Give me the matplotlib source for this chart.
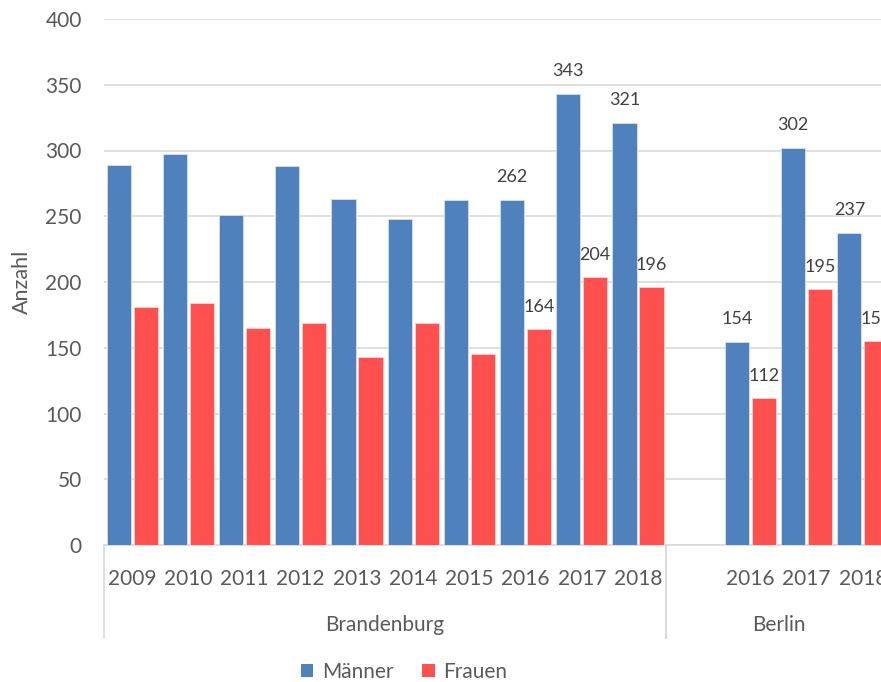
import numpy as np
import matplotlib
matplotlib.use("Agg")
import matplotlib.pyplot as plt
from matplotlib.patches import Patch

plt.rcParams['font.family'] = ['Lato', 'DejaVu Sans']

# ---- data ----
years = ['2009', '2010', '2011', '2012', '2013', '2014', '2015', '2016', '2017', '2018',
         '', '2016', '2017', '2018']
maenner = [289, 297, 251, 288, 263, 248, 262, 262, 343, 321, np.nan, 154, 302, 237]
frauen = [181, 184, 165, 169, 143, 169, 145, 164, 204, 196, np.nan, 112, 195, 155]
show_label = [False, False, False, False, False, False, False, True, True, True,
              False, True, True, True]
groups = ['Brandenburg', 'Berlin']
group_spans = [(0, 10), (10, 14)]
series_names = ['Männer', 'Frauen']
yticks = [0, 50, 100, 150, 200, 250, 300, 350, 400]

# ---- style ----
c_m = '#4F81BD'
c_f = '#FF5050'
txt = '#595959'
lab = '#404040'
grid = '#D9D9D9'

W, H = 881, 682
fig = plt.figure(figsize=(W / 100, H / 100), dpi=100)
left, right = 104, 891
top, bottom = 19, 545
ax = fig.add_axes([left / W, (H - bottom) / H, (right - left) / W, (bottom - top) / H])

x = np.arange(len(years))
bw = 0.43
ax.bar(x + 0.26, maenner, width=bw, color=c_m, edgecolor='#D6E1EF', linewidth=0.6, zorder=3)
ax.bar(x + 0.74, frauen, width=bw, color=c_f, edgecolor='#FFD0D0', linewidth=0.6, zorder=3)

for i in range(len(years)):
    if show_label[i]:
        ax.annotate(f"{int(maenner[i])}", xy=(x[i] + 0.26, maenner[i]), xytext=(0, 23),
                    textcoords='offset pixels', ha='center', va='center',
                    fontsize=13, color=lab, zorder=5)
        ax.annotate(f"{int(frauen[i])}", xy=(x[i] + 0.74, frauen[i]), xytext=(0, 22),
                    textcoords='offset pixels', ha='center', va='center',
                    fontsize=13, color=lab, zorder=5)

ax.set_xlim(0, 14)
ax.set_ylim(0, 400)
ax.set_yticks(yticks)
ax.set_yticklabels([str(v) for v in yticks])
ax.yaxis.grid(True, color=grid, linewidth=1.2, zorder=0)
ax.set_axisbelow(True)
ax.tick_params(axis='y', length=0, pad=16, labelsize=15, labelcolor=txt)
for s in ['left', 'right', 'top']:
    ax.spines[s].set_visible(False)
ax.spines['bottom'].set_color(grid)
ax.spines['bottom'].set_linewidth(1.2)

ax.set_xticks(x + 0.5)
ax.set_xticklabels(years)
ax.tick_params(axis='x', length=0, pad=17, labelsize=15, labelcolor=txt)

tr = ax.get_xaxis_transform()
div_h = 93 / (bottom - top)
for (a, b) in group_spans:
    for xv in (a, b):
        ax.plot([xv, xv], [0, -div_h], transform=tr, color=grid, lw=1.2, clip_on=False)
for g, (a, b) in zip(groups, group_spans):
    ax.annotate(g, xy=((a + b) / 2, 0), xycoords=tr, xytext=(0, -80),
                textcoords='offset pixels', ha='center', va='center',
                fontsize=15, color=txt, annotation_clip=False)

ax.set_ylabel('Anzahl', fontsize=15.5, color=txt)
ax.yaxis.set_label_coords(-(104 - 32) / (right - left), 0.5)

handles = [Patch(facecolor=c_m, edgecolor='none'), Patch(facecolor=c_f, edgecolor='none')]
fig.legend(handles, series_names, loc='center', bbox_to_anchor=(404 / W, 1 - 672 / H),
           ncol=2, frameon=False, fontsize=15, handlelength=0.6, handleheight=0.6,
           handletextpad=0.4, columnspacing=1.4, labelcolor=txt)

fig.savefig('out.png', dpi=100)
